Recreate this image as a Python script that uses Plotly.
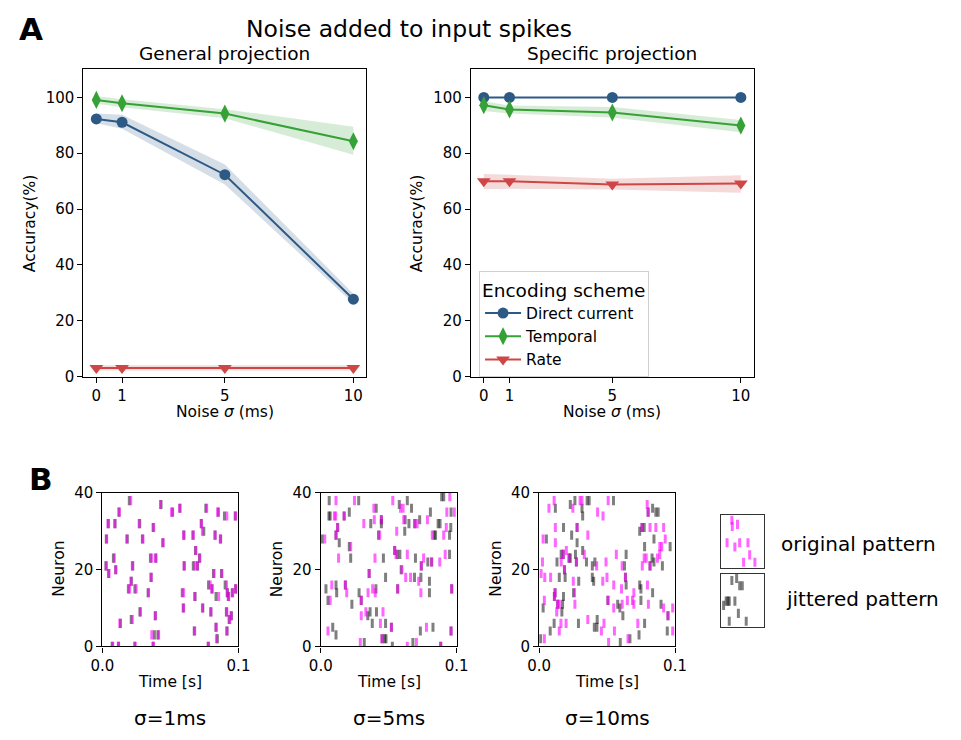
import plotly.graph_objects as go

W, H = 961, 740
FONT = "DejaVu Sans"

# ---------------- Panel A data: accuracy (%) vs noise sigma (ms) ----------------
noise = [0, 1, 5, 10]
noise_ticks = [0, 1, 5, 10]
acc_ticks = [0, 20, 40, 60, 80, 100]

# General projection
gen_dc = [92.3, 91.1, 72.3, 27.7]
gen_dc_lo = [90.7, 88.8, 68.8, 26.2]
gen_dc_hi = [94.2, 93.8, 76.0, 29.7]
gen_tmp = [99.1, 97.9, 94.2, 84.3]
gen_tmp_lo = [97.7, 96.5, 92.5, 79.5]
gen_tmp_hi = [100.5, 99.3, 95.8, 89.5]
gen_rate = [3.1, 3.1, 3.1, 3.1]
gen_rate_lo = [2.2, 2.2, 2.2, 2.2]
gen_rate_hi = [4.0, 4.0, 4.0, 4.0]

# Specific projection
spc_dc = [100.0, 100.0, 100.0, 100.0]
spc_dc_lo = [100.0, 100.0, 100.0, 100.0]
spc_dc_hi = [100.0, 100.0, 100.0, 100.0]
spc_tmp = [97.2, 95.7, 94.6, 89.9]
spc_tmp_lo = [95.1, 94.2, 92.8, 87.5]
spc_tmp_hi = [98.6, 97.1, 96.6, 91.9]
spc_rate = [70.0, 70.0, 68.8, 69.2]
spc_rate_lo = [67.1, 67.3, 67.0, 65.8]
spc_rate_hi = [72.6, 72.3, 70.9, 72.1]

schemes = ["Direct current", "Temporal", "Rate"]

# ---------------- Panel B data: spike rasters (time in ms, neuron id) ----------------
# sigma = 1 ms
orig1_t = [20.8, 42.7, 50.8, 56.8, 76.6, 12.4, 84.7, 91.4, 97.9, 4.1, 9.1, 27.0, 72.8, 37.7, 73.5,
           3.1, 17.9, 29.8, 44.6, 59.7, 66.8, 82.8, 86.6, 68.7, 8.8, 36.3, 39.1, 71.6, 2.9, 9.8,
           22.0, 60.1, 67.8, 69.7, 4.8, 82.1, 87.8, 35.8, 21.0, 20.0, 24.8, 33.9, 59.7, 79.2, 80.4,
           91.2, 91.6, 95.7, 97.9, 85.4, 92.8, 67.8, 59.7, 73.5, 79.7, 27.9, 38.9, 91.4, 94.5, 93.6,
           22.0, 12.9, 83.5, 91.4, 67.8, 36.3, 41.3, 83.8, 7.6, 11.7, 23.9, 37.5, 77.8]
orig1_n = [38, 37, 35, 36, 36, 35, 35, 34, 34, 32, 32, 32, 32, 31, 30,
           28, 28, 28, 27, 29, 29, 29, 28, 25, 23, 23, 23, 23, 21, 20,
           21, 21, 21, 21, 19, 19, 19, 18, 17, 15, 15, 14, 14, 16, 15,
           16, 14, 14, 15, 13, 13, 13, 10, 10, 9, 9, 8, 9, 8, 7,
           7, 6, 5, 4, 4, 3, 3, 2, 0, 0, 0, 0, 0]
jit1_t = [19.8, 43.1, 51.6, 57.0, 76.0, 12.2, 85.2, 89.7, 97.6, 4.4, 9.3, 27.4, 72.6, 37.3, 74.5,
          2.9, 18.3, 29.4, 44.4, 59.9, 66.5, 82.8, 86.9, 68.4, 8.1, 35.3, 39.3, 71.3, 2.6, 9.8,
          22.3, 60.1, 66.8, 69.9, 4.6, 81.6, 87.5, 35.8, 21.3, 19.1, 23.9, 33.6, 58.7, 78.0, 80.6,
          90.2, 91.9, 95.4, 97.9, 83.5, 92.5, 68.1, 59.4, 73.8, 79.7, 27.6, 38.9, 91.1, 94.8, 93.1,
          21.2, 13.2, 83.5, 91.6, 67.5, 38.2, 40.8, 84.5, 7.2, 11.9, 23.9, 37.2, 77.8]
jit1_n = orig1_n

# sigma = 5 ms
orig5_t = [11.2, 24.8, 53.0, 95.0, 60.6, 39.1, 58.7, 92.8, 98.3, 10.0, 11.0, 17.2, 31.7, 39.4, 44.6,
           61.1, 69.2, 70.9, 78.5, 92.4, 12.4, 11.2, 55.9, 43.4, 82.1, 90.5, 2.9, 22.0, 54.4, 55.4,
           13.1, 39.9, 63.7, 75.7, 81.6, 87.6, 91.6, 74.0, 59.7, 35.6, 62.5, 66.1, 72.1, 8.1, 18.1,
           19.1, 34.8, 38.2, 40.1, 56.6, 73.7, 96.4, 6.9, 29.8, 33.2, 29.8, 45.8, 43.9, 52.0, 5.3,
           77.8, 95.9, 29.1, 45.1, 63.7, 70.4, 88.3]
orig5_n = [38, 38, 38, 39, 36, 36, 36, 35, 35, 34, 34, 34, 32, 33, 33,
           33, 32, 32, 33, 31, 31, 29, 30, 29, 29, 29, 28, 26, 25, 24,
           23, 23, 24, 23, 22, 22, 24, 21, 20, 19, 18, 18, 17, 16, 16,
           14, 14, 15, 14, 15, 14, 15, 12, 12, 9, 8, 9, 6, 5, 4,
           5, 4, 1, 2, 0, 1, 0]
jit5_t = [6.2, 27.9, 63.7, 89.0, 90.5, 57.8, 40.8, 66.8, 80.7, 95.9, 21.0, 6.0, 6.9, 17.2, 36.8,
          44.6, 44.6, 62.1, 64.9, 69.2, 72.8, 86.4, 87.8, 95.7, 12.4, 11.2, 61.8, 42.5, 83.5, 84.5,
          94.8, 1.0, 13.6, 21.0, 54.4, 56.3, 58.2, 22.0, 46.1, 69.7, 78.8, 81.6, 94.8, 74.0, 59.2,
          35.6, 47.7, 69.0, 73.7, 80.0, 3.8, 11.2, 18.1, 11.7, 28.2, 40.6, 56.6, 80.0, 96.4, 5.3,
          22.9, 29.8, 34.6, 36.3, 41.0, 37.9, 47.7, 52.0, 8.8, 11.2, 73.3, 82.6, 95.9, 32.0, 45.1,
          47.0, 48.0, 52.7, 67.8, 88.3]
jit5_n = [38, 38, 38, 39, 39, 37, 36, 36, 35, 35, 35, 34, 34, 34, 32,
          33, 32, 33, 32, 32, 33, 32, 32, 31, 31, 29, 30, 29, 29, 29,
          29, 28, 27, 26, 25, 24, 24, 23, 23, 23, 22, 22, 24, 21, 20,
          19, 18, 18, 18, 17, 15, 16, 16, 14, 14, 15, 15, 14, 15, 12,
          11, 12, 8, 9, 9, 6, 6, 5, 5, 3, 4, 5, 4, 1, 2,
          2, 2, 0, 1, 0]

# sigma = 10 ms
orig10_t = [11.0, 30.1, 31.5, 50.8, 7.2, 24.8, 43.0, 47.0, 79.5, 80.2, 11.9, 27.9, 35.8, 75.7, 81.6,
            85.9, 91.6, 2.9, 11.9, 92.8, 88.8, 90.2, 2.4, 16.2, 17.7, 20.0, 22.0, 27.4, 33.2, 42.3,
            49.2, 56.8, 61.1, 75.9, 77.3, 78.8, 81.6, 87.1, 88.8, 18.6, 1.4, 4.1, 8.4, 25.1, 46.8,
            49.9, 63.5, 54.9, 60.6, 69.7, 79.7, 11.7, 11.2, 26.0, 50.6, 61.1, 64.9, 68.7, 69.7, 80.4,
            3.8, 13.6, 14.8, 12.9, 26.3, 54.9, 91.6, 94.8, 98.3, 16.0, 19.8, 35.8, 47.7, 72.6, 14.8,
            45.8, 55.4, 98.3, 3.8, 51.1, 65.4]
orig10_n = [38, 38, 38, 38, 36, 36, 35, 34, 37, 35, 31, 31, 29, 31, 31,
            31, 31, 28, 27, 28, 26, 26, 22, 22, 24, 25, 23, 22, 24, 21,
            22, 24, 21, 21, 23, 23, 21, 23, 24, 20, 19, 18, 18, 17, 17,
            18, 18, 16, 15, 14, 16, 14, 13, 14, 12, 11, 12, 12, 11, 11,
            12, 11, 11, 9, 11, 10, 10, 8, 10, 6, 6, 7, 6, 6, 4,
            4, 4, 4, 2, 1, 2]
jit10_t = [26.3, 35.3, 36.8, 54.7, 11.9, 22.9, 31.5, 32.0, 80.2, 83.5, 85.9, 87.6, 17.9, 27.9, 23.9,
           74.0, 75.7, 77.3, 5.3, 27.9, 84.5, 77.6, 96.4, 13.1, 16.2, 17.7, 22.0, 22.9, 27.4, 26.7,
           32.0, 34.8, 39.1, 41.0, 64.0, 62.8, 81.6, 83.1, 84.5, 90.7, 18.6, 14.8, 19.1, 29.1, 39.1,
           40.1, 63.5, 64.0, 74.0, 74.9, 83.5, 11.7, 11.2, 17.9, 25.3, 50.6, 57.8, 59.4, 61.6, 74.9,
           2.9, 13.6, 16.7, 17.2, 89.7, 94.8, 11.0, 28.9, 40.6, 42.7, 42.5, 77.6, 8.1, 94.3, 1.0,
           59.7, 66.8, 73.5]
jit10_n = [38, 38, 38, 38, 36, 37, 36, 34, 35, 36, 35, 35, 31, 31, 29,
           30, 31, 31, 28, 27, 28, 26, 26, 22, 24, 24, 23, 23, 22, 24,
           25, 22, 21, 22, 24, 21, 21, 23, 22, 21, 20, 18, 18, 17, 18,
           17, 18, 16, 16, 15, 14, 14, 13, 13, 14, 12, 11, 10, 8, 12,
           10, 11, 9, 11, 11, 8, 6, 6, 5, 7, 5, 6, 4, 4, 2,
           1, 2, 3]

# small key rasters (unit box coordinates)
key_orig_x = [0.26, 0.27, 0.39, 0.15, 0.33, 0.44, 0.63, 0.67, 0.53, 0.79]
key_orig_y = [0.91, 0.79, 0.83, 0.48, 0.40, 0.48, 0.48, 0.25, 0.11, 0.11]
key_jit_x = [0.26, 0.37, 0.44, 0.50, 0.07, 0.13, 0.17, 0.20, 0.33, 0.41, 0.20, 0.59]
key_jit_y = [0.87, 0.91, 0.77, 0.77, 0.40, 0.48, 0.48, 0.48, 0.48, 0.25, 0.10, 0.10]

sigma_labels = ["σ=1ms", "σ=5ms", "σ=10ms"]

# ---------------- styling ----------------
C_DC = "#2c5a85"
C_TMP = "#36a136"
C_RATE = "#cf4646"
BAND = {C_DC: "rgba(44,90,133,0.2)", C_TMP: "rgba(54,161,54,0.2)", C_RATE: "rgba(207,70,70,0.2)"}
MAG = "rgba(255,0,255,0.6)"
GRY = "rgba(0,0,0,0.5)"
TICK = 15
LABEL = 15.5


def fx(px):
    return px / W


def fy(py):
    return 1 - py / H


fig = go.Figure()


def add_curve(xa, ya, x, y, lo, hi, color, symbol, size, name, legend):
    fig.add_trace(go.Scatter(
        x=x + x[::-1], y=hi + lo[::-1], fill="toself", fillcolor=BAND[color],
        line=dict(width=0), mode="lines", hoverinfo="skip", showlegend=False,
        xaxis=xa, yaxis=ya))
    fig.add_trace(go.Scatter(
        x=x, y=y, mode="lines+markers", name=name, showlegend=legend,
        line=dict(color=color, width=2),
        marker=dict(symbol=symbol, size=size, color=color),
        xaxis=xa, yaxis=ya))


panelA = [
    ("x", "y", [(gen_dc, gen_dc_lo, gen_dc_hi), (gen_tmp, gen_tmp_lo, gen_tmp_hi),
                (gen_rate, gen_rate_lo, gen_rate_hi)], False),
    ("x2", "y2", [(spc_dc, spc_dc_lo, spc_dc_hi), (spc_tmp, spc_tmp_lo, spc_tmp_hi),
                  (spc_rate, spc_rate_lo, spc_rate_hi)], True),
]
styles = [(C_DC, "circle", 11), (C_TMP, "diamond-tall", 13), (C_RATE, "triangle-down", 12)]
for xa, ya, series, leg in panelA:
    for (vals, lo, hi), (col, sym, sz), nm in zip(series, styles, schemes):
        add_curve(xa, ya, noise, vals, lo, hi, col, sym, sz, nm, leg)


def add_raster(xa, ya, t, n, color, to_seconds=True):
    xs = [v / 1000.0 for v in t] if to_seconds else t
    fig.add_trace(go.Scatter(
        x=xs, y=n, mode="markers", showlegend=False, hoverinfo="skip",
        marker=dict(symbol="line-ns-open", size=6.5, color=color,
                    line=dict(width=3, color=color)),
        xaxis=xa, yaxis=ya, cliponaxis=True))


rasters = [("x3", "y3", orig1_t, orig1_n, jit1_t, jit1_n),
           ("x4", "y4", orig5_t, orig5_n, jit5_t, jit5_n),
           ("x5", "y5", orig10_t, orig10_n, jit10_t, jit10_n)]
for xa, ya, ot, on, jt, jn in rasters:
    add_raster(xa, ya, jt, jn, GRY)
    add_raster(xa, ya, ot, on, MAG)

add_raster("x6", "y6", key_orig_x, key_orig_y, MAG, to_seconds=False)
add_raster("x7", "y7", key_jit_x, key_jit_y, GRY, to_seconds=False)

axis_common = dict(showline=True, mirror=True, linecolor="black", linewidth=1.3,
                   ticks="outside", ticklen=5, tickwidth=1.2, tickcolor="black",
                   showgrid=False, zeroline=False,
                   tickfont=dict(family=FONT, size=TICK, color="black"))

layout = dict(
    width=W, height=H, margin=dict(l=0, r=0, t=0, b=0),
    paper_bgcolor="white", plot_bgcolor="white",
    font=dict(family=FONT, size=TICK, color="black"),
    legend=dict(
        title=dict(text="Encoding scheme", font=dict(family=FONT, size=18.5)),
        font=dict(family=FONT, size=15.5),
        x=fx(479), y=fy(269), xanchor="left", yanchor="top",
        bgcolor="white", bordercolor="#d0d0d0", borderwidth=1,
        itemwidth=36, tracegroupgap=0),
)

# Panel A axes
a_dom = [(73.3, 363.3), (470.7, 760.7)]
for i, (l, r) in enumerate(a_dom):
    sx = "" if i == 0 else "2"
    layout["xaxis" + sx] = dict(axis_common, domain=[fx(l), fx(r)], range=[-0.5, 10.5],
                                tickvals=noise_ticks, anchor="y" + sx)
    layout["yaxis" + sx] = dict(axis_common, domain=[fy(376.7), fy(62)], range=[0, 110],
                                tickvals=acc_ticks, anchor="x" + sx)

# Panel B axes
b_dom = [(92.7, 232.3), (316.7, 456.0), (540.7, 680.0)]
for i, (l, r) in enumerate(b_dom):
    k = str(i + 3)
    layout["xaxis" + k] = dict(axis_common, domain=[fx(l), fx(r)], range=[0, 0.1],
                               tickvals=[0, 0.1], ticktext=["0.0", "0.1"], anchor="y" + k)
    layout["yaxis" + k] = dict(axis_common, domain=[fy(653.3), fy(496)], range=[0, 40],
                               tickvals=[0, 20, 40], anchor="x" + k)

# key boxes
key_dom = [(519, 573), (578.7, 633)]
for i, (t, b) in enumerate(key_dom):
    k = str(i + 6)
    layout["xaxis" + k] = dict(domain=[fx(726.7), fx(771.3)], range=[0, 1], showline=True,
                               mirror=True, linecolor="#333333", linewidth=1.3, ticks="",
                               showticklabels=False, showgrid=False, zeroline=False,
                               anchor="y" + k)
    layout["yaxis" + k] = dict(domain=[fy(b), fy(t)], range=[0, 1], showline=True,
                               mirror=True, linecolor="#333333", linewidth=1.3, ticks="",
                               showticklabels=False, showgrid=False, zeroline=False,
                               anchor="x" + k)

fig.update_layout(**layout)


def note(text, x, y, size, xanchor="center", angle=0, bold=False):
    if bold:
        text = "<b>" + text + "</b>"
    fig.add_annotation(text=text, x=fx(x), y=fy(y), xref="paper", yref="paper",
                       xanchor=xanchor, yanchor="middle", showarrow=False, textangle=angle,
                       font=dict(family=FONT, size=size, color="black"))


note("A", 5, 21, 31, xanchor="left", bold=True)
note("Noise added to input spikes", 407, 21, 23.5)
note("General projection", 218, 46, 18.5)
note("Specific projection", 615, 46, 18.5)
for cx, lx in [(218, 18), (615, 415)]:
    note("Accuracy(%)", lx, 220, LABEL, angle=-90)
    note("Noise <i>σ</i> (ms)", cx, 413, LABEL)

note("B", 15, 482, 31, xanchor="left", bold=True)
for (l, r), nx, lab in zip(b_dom, [48, 272, 496], sigma_labels):
    cx = (l + r) / 2
    note("Neuron", nx, 574, LABEL, angle=-90)
    note("Time [s]", cx, 690, LABEL)
    note(lab, cx, 727, 20)

note("original pattern", 787, 548, 20, xanchor="left")
note("jittered pattern", 792, 605, 20, xanchor="left")

fig.write_html("out.html")
